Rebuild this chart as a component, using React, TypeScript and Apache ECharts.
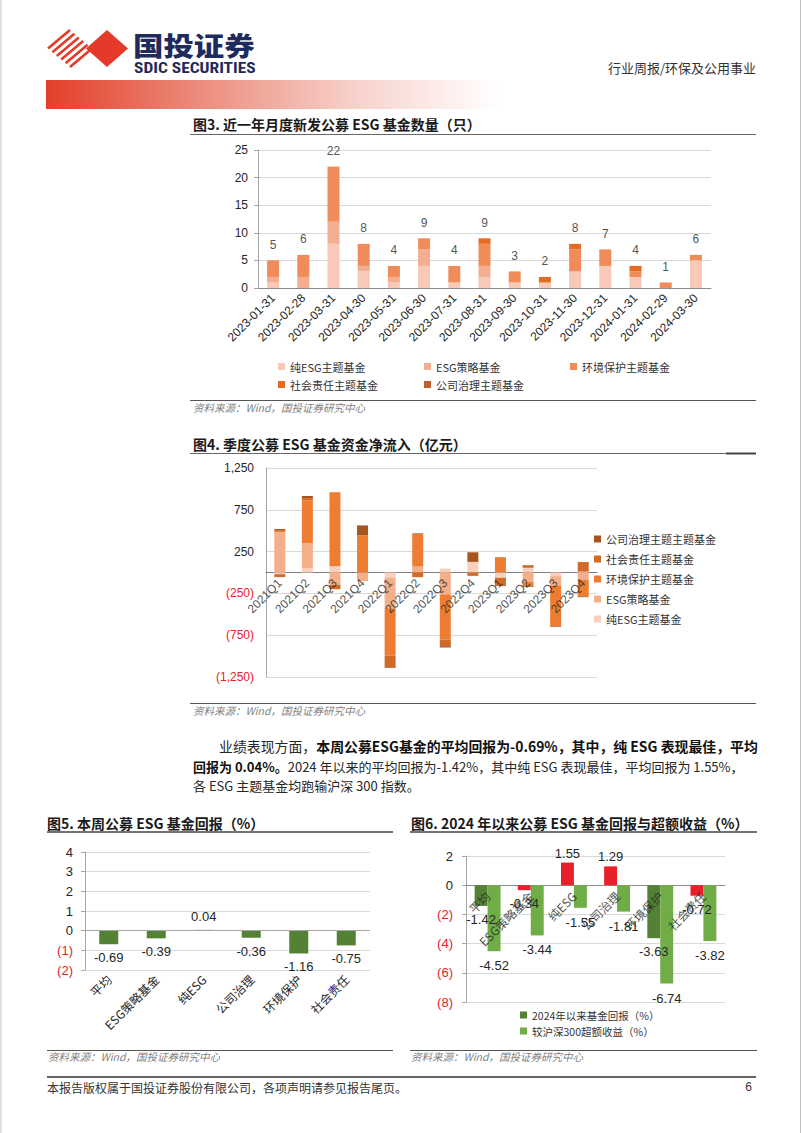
import React, { useEffect, useRef } from 'react';
import * as echarts from 'echarts';

// ---------- 图3 data ----------
const monthCats = ['2023-01-31','2023-02-28','2023-03-31','2023-04-30','2023-05-31','2023-06-30','2023-07-31','2023-08-31','2023-09-30','2023-10-31','2023-11-30','2023-12-31','2024-01-31','2024-02-29','2024-03-30'];
const mPure = [1,0,8,3,1,4,1,2,1,1,3,4,2,0,5];
const mStrategy = [1,2,4,1,1,3,0,2,0,0,0,0,0,0,0];
const mEnv = [3,4,10,4,2,2,3,4,2,0,4,3,1,1,1];
const mSocial = [0,0,0,0,0,0,0,1,0,1,1,0,1,0,0];
const mGov = [0,0,0,0,0,0,0,0,0,0,0,0,0,0,0];

// ---------- 图4 data ----------
const quarterCats = ['2021Q1','2021Q2','2021Q3','2021Q4','2022Q1','2022Q2','2022Q3','2022Q4','2023Q1','2023Q2','2023Q3','2023Q4'];
const qPure = [-20,50,75,0,-63,0,48,127,-63,56,-44,10];
const qStrategy = [480,300,-145,-103,-365,71,-262,0,0,-111,-111,-90];
const qEnv = [20,515,885,444,-567,389,-540,0,183,-50,-488,-195];
const qSocial = [-35,25,-55,0,-139,-56,-79,-40,-100,32,0,115];
const qGov = [20,25,0,119,-8,8,-16,115,0,-10,-8,-10];

// ---------- 图5 / 图6 data ----------
const fundCats = ['平均','ESG策略基金','纯ESG','公司治理','环境保护','社会责任'];
const weekReturn = [-0.69,-0.39,0.04,-0.36,-1.16,-0.75];
const ytdReturn = [-1.42,-0.34,1.55,1.29,-3.63,-0.72];
const excessReturn = [-4.52,-3.44,-1.55,-1.81,-6.74,-3.82];

// ---------- styles ----------
const FONT = '"Liberation Sans", Arial, "Noto Sans CJK SC", sans-serif';
const CJK = '"Noto Sans CJK SC", "Liberation Sans", sans-serif';
const RED = '#E8202A';
const GRID_C = '#D9D9D9';
const AXIS_C = '#A6A6A6';
const TXT = '#262626';
const names3 = ['纯ESG主题基金','ESG策略基金','环境保护主题基金','社会责任主题基金','公司治理主题基金'];
const colors3 = ['#F7C9B6','#F3AE92','#EF8C5A','#E46C1E','#C0612E'];
const names4 = ['纯ESG主题基金','ESG策略基金','环境保护主题基金','社会责任主题基金','公司治理主题主题基金'];
const colors4 = ['#F8D0BC','#F4AE8A','#ED7D31','#D06A28','#A8541F'];
const ytdColors = ['#548235', RED, RED, RED, '#548235', RED];
const DARK_GREEN = '#548235';
const LIGHT_GREEN = '#70AD47';

const negParen = (v: any) => {
  const n = Number(v);
  return n < 0 ? `(${Math.abs(n)})` : String(n);
};

function buildOption() {
  const monthData = [mPure, mStrategy, mEnv, mSocial, mGov];
  const monthTotals = monthCats.map((_, i) => monthData.reduce((s, arr) => s + arr[i], 0));
  const quarterData = [qPure, qStrategy, qEnv, qSocial, qGov];

  const text = (x: number, y: number, t: string, opts: any = {}) => ({
    type: 'text', x, y, silent: true, scaleX: opts.scaleX || 1,
    style: {
      text: t,
      fill: opts.fill || TXT,
      fontSize: opts.fontSize || 12,
      fontWeight: opts.fontWeight || 'normal',
      fontStyle: opts.fontStyle || 'normal',
      fontFamily: opts.fontFamily || CJK,
      textAlign: opts.align || 'left',
      textVerticalAlign: 'middle',
      verticalAlign: 'middle',
      align: opts.align || 'left',
    },
  });
  const line = (x1: number, y1: number, x2: number, y2: number, stroke = '#555', lw = 1) => ({
    type: 'line', silent: true, shape: { x1, y1, x2, y2 }, style: { stroke, lineWidth: lw },
  });

  // logo stripes
  const stripes: any[] = [];
  for (let k = 0; k < 6; k++) {
    const t = k / 5;
    stripes.push(line(48 + 22 * t, 48.5 + 18.5 * t, 70 + 22 * t, 30 + 18.5 * t, '#E5392A', 2.6));
  }

  const source = '资料来源：Wind，国投证券研究中心';
  const sourceStyle = { fontSize: 10.5, fill: '#7F7F7F', fontStyle: 'italic' };

  const graphic: any[] = [
    line(1, 0, 1, 1133, '#BFBFBF', 1),
    line(800.5, 0, 800.5, 1133, '#BFBFBF', 1),
    ...stripes,
    { type: 'polygon', silent: true, shape: { points: [[86, 48.5], [107, 30], [128, 48.5], [107, 67]] }, style: { fill: '#E5392A' } },
    text(133, 45, '国投证券', { fontSize: 26, fontWeight: 900, fill: '#1F2B5C', scaleX: 1.17 }),
    text(134, 68, 'SDIC SECURITIES', { fontSize: 14.5, fontWeight: 'bold', fill: '#1F2B5C', scaleX: 1.2, fontFamily: '"Liberation Sans Narrow", "Roboto Condensed", "Liberation Sans", Arial, sans-serif' }),
    text(756, 67, '行业周报/环保及公用事业', { fontSize: 13, align: 'right', fill: '#333' }),
    {
      type: 'rect', silent: true, shape: { x: 46, y: 80, width: 454, height: 29 },
      style: {
        fill: new echarts.graphic.LinearGradient(0, 0, 1, 0, [
          { offset: 0, color: '#E23F28' },
          { offset: 0.35, color: '#EC8F80' },
          { offset: 0.7, color: '#F7D5CE' },
          { offset: 1, color: '#FFFFFF' },
        ]),
      },
    },
    // 图3
    text(193, 124, '图3. 近一年月度新发公募 ESG 基金数量（只）', { fontSize: 14, fontWeight: 'bold', fill: '#1a1a1a' }),
    line(190, 134.5, 756, 134.5, '#666', 1),
    line(190, 400.5, 756, 400.5, '#555', 1),
    text(193, 407.5, source, sourceStyle),
    // 图4
    text(193, 444, '图4. 季度公募 ESG 基金资金净流入（亿元）', { fontSize: 14, fontWeight: 'bold', fill: '#1a1a1a' }),
    line(190, 453.5, 726, 453.5, '#666', 1),
    line(726, 453.5, 756, 453.5, '#444', 2),
    line(190, 703.5, 756, 703.5, '#555', 1),
    text(193, 710, source, sourceStyle),
    // paragraph
    {
      type: 'text', x: 219, y: 746, silent: true,
      style: {
        text: '{r|业绩表现方面，}{b|本周公募ESG基金的平均回报为-0.69%，其中，纯 ESG 表现最佳，平均}',
        textVerticalAlign: 'middle', verticalAlign: 'middle',
        rich: {
          r: { fontSize: 13.9, fontFamily: CJK, fill: TXT, color: TXT },
          b: { fontSize: 13.9, fontFamily: CJK, fontWeight: 'bold', fill: '#111', color: '#111' },
        },
      },
    },
    {
      type: 'text', x: 193, y: 766, silent: true,
      style: {
        text: '{b|回报为 0.04%。}{r|2024 年以来的平均回报为-1.42%，其中纯 ESG 表现最佳，平均回报为 1.55%，}',
        textVerticalAlign: 'middle', verticalAlign: 'middle',
        rich: {
          r: { fontSize: 13, fontFamily: CJK, fill: TXT, color: TXT },
          b: { fontSize: 13, fontFamily: CJK, fontWeight: 'bold', fill: '#111', color: '#111' },
        },
      },
    },
    text(193, 785, '各 ESG 主题基金均跑输沪深 300 指数。', { fontSize: 13 }),
    // 图5
    text(47, 823, '图5. 本周公募 ESG 基金回报（%）', { fontSize: 14, fontWeight: 'bold', fill: '#1a1a1a' }),
    line(47, 832, 393, 832, '#444', 1.5),
    line(47, 1050.5, 393, 1050.5, '#555', 1),
    text(48, 1056.5, source, sourceStyle),
    // 图6
    text(411, 823, '图6. 2024 年以来公募 ESG 基金回报与超额收益（%）', { fontSize: 14, fontWeight: 'bold', fill: '#1a1a1a' }),
    line(410, 832, 757, 832, '#444', 1.5),
    line(410, 1050.5, 757, 1050.5, '#555', 1),
    text(411, 1056.5, source, sourceStyle),
    // footer
    line(47, 1077, 756, 1077, '#333', 1.5),
    text(47, 1087, '本报告版权属于国投证券股份有限公司，各项声明请参见报告尾页。', { fontSize: 12, fill: '#333' }),
    text(752, 1087, '6', { fontSize: 12, fill: '#333', align: 'right', fontFamily: FONT }),
  ];

  const legendBase = {
    padding: 0, icon: 'rect', itemWidth: 7, itemHeight: 7, selectedMode: false,
    textStyle: { fontSize: 11, color: '#333', fontFamily: CJK },
  };
  const legend3Pos = [[278, 361], [424, 361], [570, 361], [278, 379], [424, 379]];
  const legends: any[] = names3.map((n, i) => ({
    ...legendBase,
    left: legend3Pos[i][0], top: legend3Pos[i][1],
    data: [{ name: n, itemStyle: { color: colors3[i] } }],
  }));
  legends.push({
    ...legendBase,
    orient: 'vertical', left: 594, top: 532, itemGap: 6,
    textStyle: { ...legendBase.textStyle, lineHeight: 14 },
    data: [4, 3, 2, 1, 0].map((i) => ({ name: names4[i], itemStyle: { color: colors4[i] } })),
  });
  legends.push({
    ...legendBase,
    orient: 'vertical', left: 520, top: 1009, itemGap: 4,
    textStyle: { ...legendBase.textStyle, fontSize: 10.5, lineHeight: 12 },
    data: [
      { name: '2024年以来基金回报（%）', itemStyle: { color: DARK_GREEN } },
      { name: '较沪深300超额收益（%）', itemStyle: { color: LIGHT_GREEN } },
    ],
  });

  const catLabel = { rotate: 45, interval: 0, fontSize: 12, color: TXT, fontFamily: FONT };

  // category names drawn as rotated labels on the zero line, on top of the bars
  const zeroLabels = (cats: string[], xi: number, family: string) => ({
    type: 'scatter', name: `labels${xi}`, xAxisIndex: xi, yAxisIndex: xi, z: 10, silent: true,
    symbolSize: 1, itemStyle: { color: 'rgba(0,0,0,0)' },
    data: cats.map((_, i) => [i, 0]),
    label: {
      show: true, position: 'bottom', distance: 8, rotate: 45, align: 'right', verticalAlign: 'middle',
      fontSize: 12, color: TXT, fontFamily: family,
      formatter: (p: any) => cats[p.dataIndex],
    },
  });

  const series: any[] = [];
  monthData.forEach((arr, i) => {
    series.push({
      type: 'bar', name: names3[i], xAxisIndex: 0, yAxisIndex: 0, stack: 'c3',
      barWidth: 12, data: arr, itemStyle: { color: colors3[i] },
    });
  });
  series.push({
    type: 'scatter', name: '合计', xAxisIndex: 0, yAxisIndex: 0, symbolSize: 1,
    itemStyle: { color: 'rgba(0,0,0,0)' }, data: monthTotals,
    label: { show: true, position: 'top', distance: 9, fontSize: 12, color: TXT, fontFamily: FONT },
  });
  quarterData.forEach((arr, i) => {
    series.push({
      type: 'bar', name: names4[i], xAxisIndex: 1, yAxisIndex: 1, stack: 'c4',
      barWidth: 11, data: arr, itemStyle: { color: colors4[i] },
    });
  });
  series.push(zeroLabels(quarterCats, 1, FONT));
  series.push({
    type: 'bar', name: '本周回报', xAxisIndex: 2, yAxisIndex: 2, barWidth: 19,
    itemStyle: { color: DARK_GREEN },
    data: weekReturn.map((v) => ({ value: v, label: { position: v < 0 ? 'bottom' : 'top' } })),
    label: { show: true, distance: 7, fontSize: 13, color: TXT, fontFamily: FONT, formatter: (p: any) => Number(p.value).toFixed(2) },
    markLine: { silent: true, symbol: 'none', label: { show: false }, lineStyle: { color: '#A6A6A6', type: 'solid', width: 1 }, data: [{ yAxis: 0 }] },
  });
  series.push({
    type: 'bar', name: '2024年以来基金回报（%）', xAxisIndex: 3, yAxisIndex: 3,
    barGap: '0%', barCategoryGap: '40%',
    data: ytdReturn.map((v, i) => ({ value: v, itemStyle: { color: ytdColors[i] }, label: { position: v < 0 ? 'bottom' : 'top', distance: v < 0 ? 7 : 3 } })),
    label: { show: true, fontSize: 13, color: TXT, fontFamily: FONT, formatter: (p: any) => Number(p.value).toFixed(2) },
    itemStyle: { color: DARK_GREEN },
  });
  series.push({
    type: 'bar', name: '较沪深300超额收益（%）', xAxisIndex: 3, yAxisIndex: 3,
    barGap: '0%', barCategoryGap: '40%',
    data: excessReturn.map((v) => ({ value: v, label: { position: v < 0 ? 'bottom' : 'top' } })),
    label: { show: true, distance: 8, fontSize: 13, color: TXT, fontFamily: FONT, formatter: (p: any) => Number(p.value).toFixed(2) },
    itemStyle: { color: LIGHT_GREEN },
  });
  series.push(zeroLabels(fundCats, 3, CJK));

  const valueAxisBase = {
    type: 'value',
    axisLine: { show: true, lineStyle: { color: AXIS_C } },
    axisTick: { show: true, length: 4, lineStyle: { color: AXIS_C } },
    splitLine: { show: true, lineStyle: { color: GRID_C } },
  };

  return {
    animation: false,
    backgroundColor: '#ffffff',
    grid: [
      { left: 258, top: 150, width: 453, height: 138 },
      { left: 266, top: 468, width: 331, height: 209 },
      { left: 85, top: 852, width: 285, height: 118 },
      { left: 466, top: 856, width: 259, height: 146 },
    ],
    xAxis: [
      { type: 'category', gridIndex: 0, data: monthCats, axisLine: { lineStyle: { color: '#8C8C8C' } }, axisTick: { show: false }, axisLabel: { ...catLabel, margin: 8 } },
      { type: 'category', gridIndex: 1, data: quarterCats, axisLine: { onZero: true, lineStyle: { color: '#7F7F7F' } }, axisTick: { show: false }, axisLabel: { show: false } },
      { type: 'category', gridIndex: 2, data: fundCats, axisLine: { show: false, onZero: false }, axisTick: { show: false }, axisLabel: { ...catLabel, margin: 7, fontFamily: CJK } },
      { type: 'category', gridIndex: 3, data: fundCats, axisLine: { onZero: true, lineStyle: { color: '#8C8C8C' } }, axisTick: { show: false }, axisLabel: { show: false } },
    ],
    yAxis: [
      { ...valueAxisBase, gridIndex: 0, min: 0, max: 25, interval: 5, axisLabel: { fontSize: 12, color: TXT, fontFamily: FONT, margin: 10 } },
      {
        ...valueAxisBase, gridIndex: 1, min: -1250, max: 1250, interval: 250,
        axisTick: { show: false },
        splitLine: { show: true, lineStyle: { color: [GRID_C, 'rgba(0,0,0,0)'] } },
        axisLabel: {
          fontSize: 12, fontFamily: FONT, margin: 12,
          color: (v: any) => (Number(v) < 0 ? RED : TXT),
          formatter: (v: any) => {
            const n = Number(v);
            const a = Math.abs(n);
            if ((a - 250) % 500 !== 0) return '';
            const s = a.toLocaleString('en-US');
            return n < 0 ? `(${s})` : s;
          },
        },
      },
      { ...valueAxisBase, gridIndex: 2, min: -2, max: 4, interval: 1, axisLabel: { fontSize: 13, fontFamily: FONT, margin: 12, color: (v: any) => (Number(v) < 0 ? RED : TXT), formatter: negParen } },
      { ...valueAxisBase, gridIndex: 3, min: -8, max: 2, interval: 2, axisLabel: { fontSize: 13, fontFamily: FONT, margin: 13, color: (v: any) => (Number(v) < 0 ? RED : TXT), formatter: negParen } },
    ],
    legend: legends,
    series,
    graphic,
  };
}

export default function App() {
  const ref = useRef<HTMLDivElement>(null);
  useEffect(() => {
    if (!ref.current) return;
    const chart = echarts.init(ref.current, null, { renderer: 'svg' });
    chart.setOption(buildOption() as any);
    return () => chart.dispose();
  }, []);
  return (
    <div
      ref={ref}
      style={{ position: 'absolute', left: 0, top: 0, width: 802, height: 1133, background: '#ffffff' }}
    />
  );
}
